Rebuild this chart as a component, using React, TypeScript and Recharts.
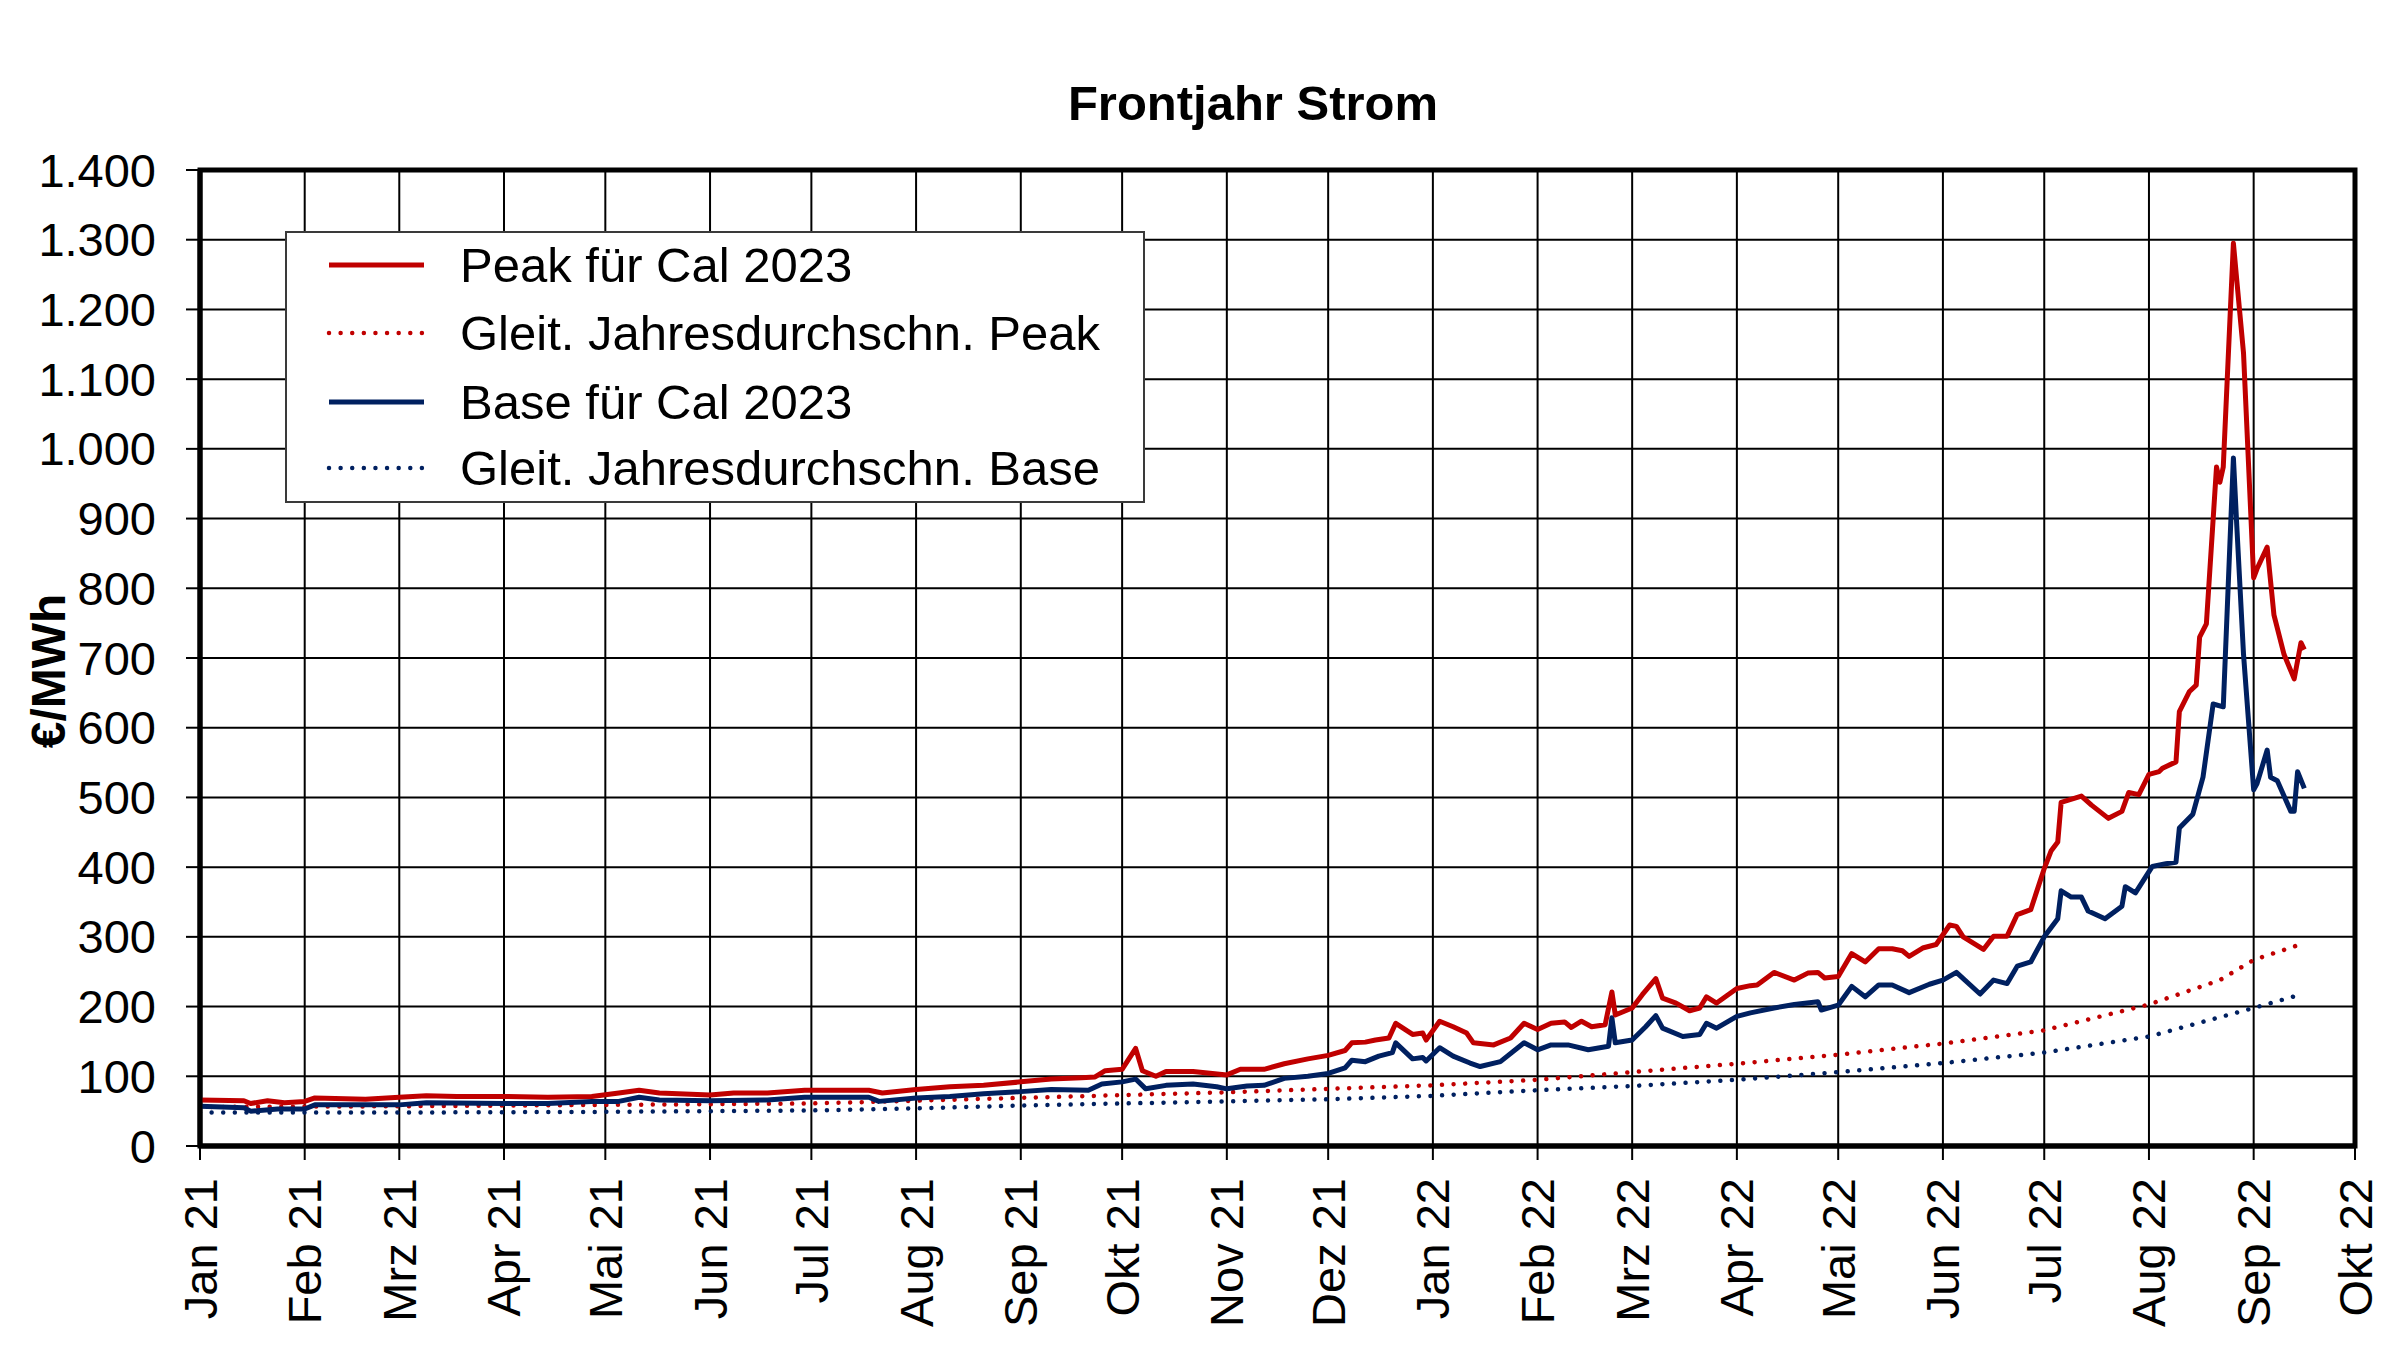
import React from 'react';
import { LineChart, Line, XAxis, YAxis, CartesianGrid, Legend, ReferenceArea } from 'recharts';

const FONT = '"Liberation Sans", Arial, sans-serif';
const RED = '#C00000';
const NAVY = '#002060';

const monthTicks = ['2021-01-01','2021-02-01','2021-03-01','2021-04-01','2021-05-01','2021-06-01','2021-07-01','2021-08-01','2021-09-01','2021-10-01','2021-11-01','2021-12-01','2022-01-01','2022-02-01','2022-03-01','2022-04-01','2022-05-01','2022-06-01','2022-07-01','2022-08-01','2022-09-01','2022-10-01'];
const monthLabels = ['Jan 21','Feb 21','Mrz 21','Apr 21','Mai 21','Jun 21','Jul 21','Aug 21','Sep 21','Okt 21','Nov 21','Dez 21','Jan 22','Feb 22','Mrz 22','Apr 22','Mai 22','Jun 22','Jul 22','Aug 22','Sep 22','Okt 22'];
const yTicks = [0,100,200,300,400,500,600,700,800,900,1000,1100,1200,1300,1400];

const peakDates = ['2021-01-01','2021-01-14','2021-01-16','2021-01-21','2021-01-26','2021-02-01','2021-02-04','2021-02-19','2021-03-01','2021-03-09','2021-03-18','2021-04-01','2021-04-14','2021-04-27','2021-05-05','2021-05-11','2021-05-17','2021-06-01','2021-06-08','2021-06-18','2021-06-29','2021-07-18','2021-07-22','2021-08-01','2021-08-11','2021-08-21','2021-09-01','2021-09-10','2021-09-19','2021-09-23','2021-09-26','2021-10-01','2021-10-05','2021-10-07','2021-10-11','2021-10-14','2021-10-22','2021-11-01','2021-11-05','2021-11-12','2021-11-18','2021-11-25','2021-12-01','2021-12-06','2021-12-08','2021-12-12','2021-12-15','2021-12-19','2021-12-21','2021-12-26','2021-12-29','2021-12-30','2022-01-03','2022-01-07','2022-01-11','2022-01-13','2022-01-19','2022-01-24','2022-01-28','2022-02-01','2022-02-05','2022-02-09','2022-02-11','2022-02-14','2022-02-17','2022-02-21','2022-02-23','2022-02-24','2022-03-01','2022-03-04','2022-03-08','2022-03-10','2022-03-14','2022-03-18','2022-03-21','2022-03-23','2022-03-26','2022-04-01','2022-04-05','2022-04-07','2022-04-12','2022-04-18','2022-04-22','2022-04-25','2022-04-27','2022-05-01','2022-05-05','2022-05-09','2022-05-13','2022-05-17','2022-05-20','2022-05-22','2022-05-26','2022-05-30','2022-06-03','2022-06-05','2022-06-07','2022-06-13','2022-06-16','2022-06-20','2022-06-23','2022-06-27','2022-07-01','2022-07-03','2022-07-05','2022-07-06','2022-07-12','2022-07-15','2022-07-20','2022-07-24','2022-07-26','2022-07-29','2022-08-01','2022-08-04','2022-08-05','2022-08-09','2022-08-10','2022-08-13','2022-08-15','2022-08-16','2022-08-18','2022-08-21','2022-08-22','2022-08-23','2022-08-26','2022-08-27','2022-08-29','2022-09-01','2022-09-02','2022-09-05','2022-09-07','2022-09-10','2022-09-13','2022-09-15','2022-09-16'];
const peakValues = [66,65,61,65,62,64,69,67,70,72,71,71,70,71,76,80,76,73,76,76,80,80,76,81,85,87,92,96,98,99,108,110,140,108,100,107,107,102,110,110,118,125,130,137,148,149,152,155,176,160,162,152,179,171,162,148,145,155,176,167,176,178,170,179,171,174,221,188,198,217,240,212,205,194,198,214,205,226,230,231,249,238,248,249,241,243,276,264,283,283,280,272,284,289,317,315,300,282,301,301,332,339,398,423,436,493,502,489,470,480,507,504,533,537,542,551,623,652,661,730,749,974,952,974,1295,1242,1137,815,828,859,762,705,670,722,712];

const baseDates = ['2021-01-01','2021-01-14','2021-01-16','2021-01-24','2021-02-01','2021-02-04','2021-03-01','2021-03-09','2021-04-01','2021-04-14','2021-04-27','2021-05-05','2021-05-11','2021-05-17','2021-06-01','2021-06-18','2021-06-29','2021-07-18','2021-07-21','2021-08-01','2021-08-11','2021-08-21','2021-09-01','2021-09-10','2021-09-21','2021-09-25','2021-10-01','2021-10-05','2021-10-08','2021-10-14','2021-10-22','2021-10-29','2021-11-01','2021-11-07','2021-11-12','2021-11-18','2021-11-25','2021-12-01','2021-12-06','2021-12-08','2021-12-12','2021-12-16','2021-12-20','2021-12-21','2021-12-26','2021-12-29','2021-12-30','2022-01-03','2022-01-07','2022-01-12','2022-01-15','2022-01-21','2022-01-28','2022-02-01','2022-02-05','2022-02-10','2022-02-16','2022-02-22','2022-02-23','2022-02-24','2022-03-01','2022-03-05','2022-03-08','2022-03-10','2022-03-16','2022-03-21','2022-03-23','2022-03-26','2022-04-01','2022-04-05','2022-04-12','2022-04-18','2022-04-25','2022-04-26','2022-05-01','2022-05-05','2022-05-09','2022-05-13','2022-05-17','2022-05-22','2022-05-28','2022-06-01','2022-06-05','2022-06-12','2022-06-16','2022-06-20','2022-06-23','2022-06-27','2022-07-01','2022-07-05','2022-07-06','2022-07-09','2022-07-12','2022-07-14','2022-07-19','2022-07-24','2022-07-25','2022-07-28','2022-08-02','2022-08-06','2022-08-09','2022-08-10','2022-08-14','2022-08-17','2022-08-20','2022-08-23','2022-08-26','2022-08-27','2022-08-29','2022-09-01','2022-09-02','2022-09-05','2022-09-06','2022-09-08','2022-09-12','2022-09-13','2022-09-14','2022-09-16'];
const baseValues = [57,55,50,53,53,59,59,62,61,61,64,64,70,66,65,66,70,70,64,69,71,75,78,81,80,89,92,96,82,87,89,85,82,86,87,97,100,104,112,123,121,129,134,148,125,127,122,141,129,119,114,121,148,138,145,145,138,143,184,148,152,171,187,169,157,160,176,169,186,191,198,203,207,195,202,229,214,231,231,220,232,238,249,218,238,233,258,264,300,326,366,357,357,337,326,344,372,363,401,405,407,456,476,529,634,630,987,890,705,511,520,568,529,524,480,480,537,513];

const peakAvgDates = ['2021-01-01','2021-03-01','2021-05-01','2021-07-01','2021-08-01','2021-09-01','2021-10-01','2021-11-01','2021-12-01','2022-01-01','2022-02-01','2022-03-01','2022-04-01','2022-05-01','2022-06-01','2022-07-01','2022-08-01','2022-08-22','2022-09-01','2022-09-16'];
const peakAvgValues = [56,57,59,61,65,69,73,77,82,87,95,106,118,131,147,166,203,238,267,291];

const baseAvgDates = ['2021-01-01','2021-03-01','2021-05-01','2021-07-01','2021-08-01','2021-09-01','2021-10-01','2021-11-01','2021-12-01','2022-01-01','2022-02-01','2022-03-01','2022-04-01','2022-05-01','2022-06-01','2022-07-01','2022-08-01','2022-09-01','2022-09-14'];
const baseAvgValues = [48,48,49,51,54,58,61,64,67,72,80,86,95,106,119,134,157,198,216];

const dayIndex = (s: string) => {
  const [y, m, d] = s.split('-').map(Number);
  return (Date.UTC(y, m - 1, d) - Date.UTC(2021, 0, 1)) / 86400000;
};
const toSeries = (dates: string[], values: number[]) => dates.map((d, i) => ({ x: dayIndex(d), v: values[i] }));

const peakData = toSeries(peakDates, peakValues);
const baseData = toSeries(baseDates, baseValues);
const peakAvgData = toSeries(peakAvgDates, peakAvgValues);
const baseAvgData = toSeries(baseAvgDates, baseAvgValues);

const xTicks = monthTicks.map(dayIndex);
const xMin = xTicks[0];
const xMax = xTicks[xTicks.length - 1];
const labelFor = (v: number) => monthLabels[xTicks.indexOf(v)] ?? '';
const fmtY = (v: number) => (v >= 1000 ? `${Math.floor(v / 1000)}.${String(v % 1000).padStart(3, '0')}` : String(v));

const DOTS = '0.01 11.6';

const legendItems = [
  { name: 'Peak für Cal 2023', color: RED, dotted: false, cy: 265 },
  { name: 'Gleit. Jahresdurchschn. Peak', color: RED, dotted: true, cy: 333 },
  { name: 'Base für Cal 2023', color: NAVY, dotted: false, cy: 402 },
  { name: 'Gleit. Jahresdurchschn. Base', color: NAVY, dotted: true, cy: 468 },
];
const LEG_LEFT = 285;
const LEG_TOP = 231;

const LegendBox = () => (
  <div style={{ position: 'relative', width: 860, height: 272, boxSizing: 'border-box', border: '2px solid #3a3a3a', background: '#fff' }}>
    {legendItems.map((it) => {
      const top = it.cy - LEG_TOP - 2 - 30;
      return (
        <div key={it.name} style={{ position: 'absolute', left: 0, top, height: 60, width: 856, display: 'flex', alignItems: 'center' }}>
          <svg width={110} height={20} style={{ position: 'absolute', left: 329 - LEG_LEFT - 2 - 5, top: 20 }}>
            <line
              x1={5}
              y1={10}
              x2={it.dotted ? 99 : 100}
              y2={10}
              stroke={it.color}
              strokeWidth={it.dotted ? 4.5 : 5}
              strokeDasharray={it.dotted ? DOTS : undefined}
              strokeLinecap={it.dotted ? 'round' : 'butt'}
            />
          </svg>
          <span style={{ position: 'absolute', left: 460 - LEG_LEFT - 2, fontFamily: FONT, fontSize: 49, lineHeight: '60px', color: '#000', whiteSpace: 'nowrap' }}>{it.name}</span>
        </div>
      );
    })}
  </div>
);

const XTick = (props: any) => {
  const { x, y, payload } = props;
  return (
    <text x={x} y={y} transform={`rotate(-90 ${x} ${y})`} textAnchor="end" dominantBaseline="central" fontFamily={FONT} fontSize={47} fill="#000">
      {labelFor(payload.value)}
    </text>
  );
};

const YTick = (props: any) => {
  const { x, y, payload } = props;
  return (
    <text x={x} y={y} textAnchor="end" dominantBaseline="central" fontFamily={FONT} fontSize={47} fill="#000">
      {fmtY(payload.value)}
    </text>
  );
};

export default function App() {
  return (
    <div style={{ position: 'absolute', left: 0, top: 0, width: 2400, height: 1359, background: '#fff' }}>
      <LineChart width={2400} height={1359} margin={{ top: 170, right: 45, bottom: 0, left: 0 }}>
        <CartesianGrid stroke="#000" strokeWidth={2} />
        <XAxis
          dataKey="x"
          type="number"
          domain={[xMin, xMax]}
          ticks={xTicks}
          interval={0}
          allowDataOverflow
          height={213}
          tickSize={14}
          tickMargin={18}
          tickLine={{ stroke: '#000', strokeWidth: 2 }}
          axisLine={{ stroke: '#000', strokeWidth: 5 }}
          tick={<XTick />}
        />
        <YAxis
          type="number"
          domain={[0, 1400]}
          ticks={yTicks}
          interval={0}
          allowDataOverflow
          width={200}
          tickSize={14}
          tickMargin={30}
          tickLine={{ stroke: '#000', strokeWidth: 2 }}
          axisLine={{ stroke: '#000', strokeWidth: 5 }}
          tick={<YTick />}
        />
        <ReferenceArea x1={xMin} x2={xMax} y1={0} y2={1400} fill="none" fillOpacity={0} stroke="#000" strokeWidth={5} ifOverflow="visible" />
        <Line data={peakAvgData} dataKey="v" name="Gleit. Jahresdurchschn. Peak" type="linear" stroke={RED} strokeWidth={4.5} strokeDasharray={DOTS} strokeLinecap="round" dot={false} isAnimationActive={false} />
        <Line data={baseAvgData} dataKey="v" name="Gleit. Jahresdurchschn. Base" type="linear" stroke={NAVY} strokeWidth={4.5} strokeDasharray={DOTS} strokeLinecap="round" dot={false} isAnimationActive={false} />
        <Line data={baseData} dataKey="v" name="Base für Cal 2023" type="linear" stroke={NAVY} strokeWidth={5} strokeLinejoin="round" dot={false} isAnimationActive={false} />
        <Line data={peakData} dataKey="v" name="Peak für Cal 2023" type="linear" stroke={RED} strokeWidth={5} strokeLinejoin="round" dot={false} isAnimationActive={false} />
        <Legend
          layout="vertical"
          align="center"
          verticalAlign="middle"
          content={<LegendBox />}
          wrapperStyle={{ position: 'absolute', left: LEG_LEFT, top: LEG_TOP, width: 860, height: 272, margin: 0, padding: 0 }}
        />
      </LineChart>
      <svg width={2400} height={1359} style={{ position: 'absolute', left: 0, top: 0, pointerEvents: 'none' }}>
        <text x={1253} y={120} textAnchor="middle" fontFamily={FONT} fontWeight="bold" fontSize={49} fill="#000">Frontjahr Strom</text>
        <text x={48} y={671} transform="rotate(-90 48 671)" textAnchor="middle" dominantBaseline="central" fontFamily={FONT} fontWeight="bold" fontSize={48} fill="#000">€/MWh</text>
      </svg>
    </div>
  );
}
